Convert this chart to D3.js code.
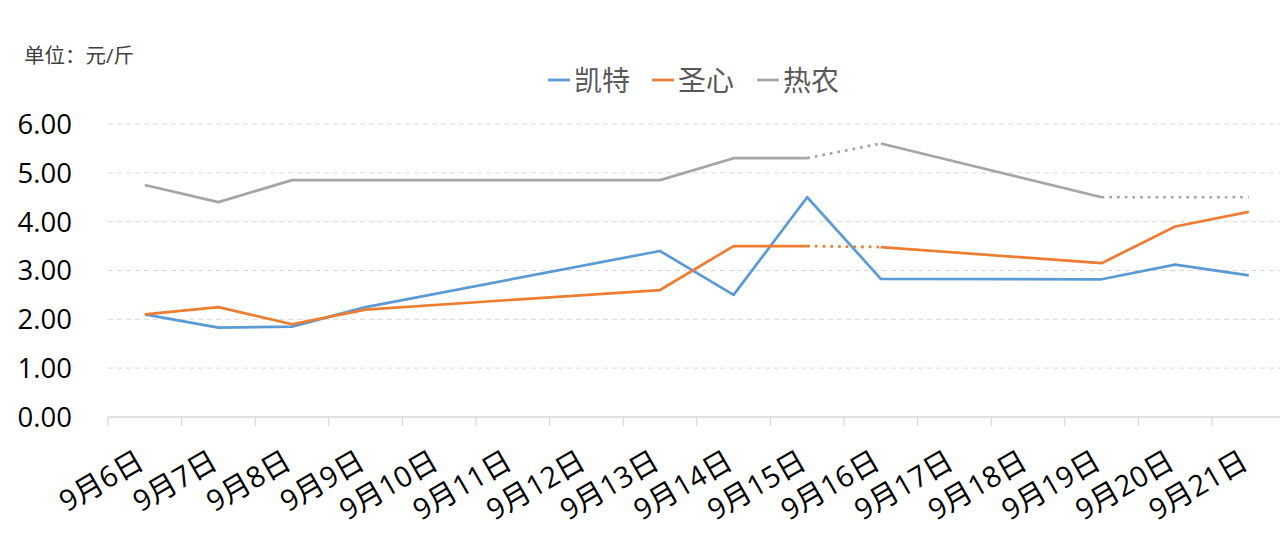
<!DOCTYPE html>
<html lang="zh">
<head>
<meta charset="UTF-8">
<title>价格走势</title>
<style>
  body { margin: 0; background: #fff; }
  text { font-family: "Open Sans", "Noto Sans CJK SC", sans-serif; }
</style>
</head>
<body>
<svg width="1280" height="545"></svg>
<script src="https://d3js.org/d3.v7.min.js"></script>
<script>

  var dates = ['9月6日', '9月7日', '9月8日', '9月9日', '9月10日', '9月11日', '9月12日', '9月13日',
               '9月14日', '9月15日', '9月16日', '9月17日', '9月18日', '9月19日', '9月20日', '9月21日'];

  var kaite   = [2.10, 1.83, 1.85, 2.25, null, null, null, 3.40, 2.50, 4.50, 2.83, null, null, 2.82, 3.12, 2.90];
  var shengxin = [2.10, 2.25, 1.90, 2.20, null, null, null, 2.60, 3.50, 3.50, 3.48, null, null, 3.15, 3.90, 4.20];
  var renong  = [4.75, 4.40, 4.85, 4.85, null, null, null, 4.85, 5.30, 5.30, 5.60, null, null, 4.50, null, 4.50];

  // segments drawn dotted, named by the date they start from
  var kaiteDotted = [];
  var shengxinDotted = ['9月15日'];
  var renongDotted = ['9月15日', '9月19日'];

  var yTicks = [0, 1, 2, 3, 4, 5, 6];

  var series = [
    {name: '凯特', values: kaite, dotted: kaiteDotted, color: '#5B9BD5'},
    {name: '圣心', values: shengxin, dotted: shengxinDotted, color: '#ED7D31'},
    {name: '热农', values: renong, dotted: renongDotted, color: '#A5A5A5'}
  ];

  var svg = d3.select('svg');

  var x = d3.scaleBand().domain(dates).range([108, 108 + 16 * 73.6]);
  var y = d3.scaleLinear().domain([0, 6]).range([417, 124]);
  var cx = function(d) { return x(d) + x.bandwidth() / 2; };

  // grid
  svg.append('g')
    .selectAll('line')
    .data(yTicks.filter(function(t) { return t > 0; }))
    .enter().append('line')
    .attr('x1', x.range()[0]).attr('x2', x.range()[1])
    .attr('y1', function(d) { return y(d); })
    .attr('y2', function(d) { return y(d); })
    .attr('stroke', '#d9d9d9')
    .attr('stroke-width', 1)
    .attr('stroke-dasharray', '5,4');

  // y labels
  svg.append('g')
    .selectAll('text')
    .data(yTicks)
    .enter().append('text')
    .attr('x', 72)
    .attr('y', function(d) { return y(d); })
    .attr('dy', '0.36em')
    .attr('text-anchor', 'end')
    .attr('font-size', 27.5)
    .attr('fill', '#000')
    .text(function(d) { return d3.format('.2f')(d); });

  // x axis
  var xAxis = svg.append('g');
  xAxis.append('line')
    .attr('x1', x.range()[0]).attr('x2', x.range()[1])
    .attr('y1', y(0)).attr('y2', y(0))
    .attr('stroke', '#d9d9d9').attr('stroke-width', 1.3);
  xAxis.selectAll('.tick')
    .data(dates)
    .enter().append('line')
    .attr('x1', function(d) { return x(d); })
    .attr('x2', function(d) { return x(d); })
    .attr('y1', y(0)).attr('y2', y(0) + 9)
    .attr('stroke', '#d9d9d9').attr('stroke-width', 1.3);
  xAxis.selectAll('text')
    .data(dates)
    .enter().append('text')
    .attr('text-anchor', 'end')
    .attr('font-size', 29)
    .attr('fill', '#000')
    .attr('transform', function(d) { return 'translate(' + (cx(d) + 1) + ',467) rotate(-30)'; })
    .text(function(d) { return d; });

  // lines
  var line = d3.line()
    .x(function(p) { return cx(p.date); })
    .y(function(p) { return y(p.value); });

  series.forEach(function(s) {
    var pts = [];
    s.values.forEach(function(v, i) {
      if (v !== null) pts.push({date: dates[i], value: v});
    });
    // group consecutive pairs of the same style into one path
    var runs = [];
    for (var i = 0; i < pts.length - 1; i++) {
      var dotted = s.dotted.indexOf(pts[i].date) >= 0;
      var last = runs[runs.length - 1];
      if (last && last.dotted === dotted) {
        last.pts.push(pts[i + 1]);
      } else {
        runs.push({dotted: dotted, pts: [pts[i], pts[i + 1]]});
      }
    }
    svg.append('g')
      .selectAll('path')
      .data(runs)
      .enter().append('path')
      .attr('d', function(r) { return line(r.pts); })
      .attr('fill', 'none')
      .attr('stroke', s.color)
      .attr('stroke-width', 2.7)
      .attr('stroke-linejoin', 'round')
      .attr('stroke-dasharray', function(r) { return r.dotted ? '2.7,5' : null; });
  });

  // legend
  var legendX = [548, 652, 757];
  var legend = svg.append('g')
    .selectAll('g')
    .data(series)
    .enter().append('g')
    .attr('transform', function(d, i) { return 'translate(' + legendX[i] + ',80)'; });
  legend.append('line')
    .attr('x1', 0).attr('x2', 22)
    .attr('stroke', function(d) { return d.color; })
    .attr('stroke-width', 2.7);
  legend.append('text')
    .attr('x', 26)
    .attr('dy', '0.38em')
    .attr('font-size', 28)
    .attr('fill', '#595959')
    .text(function(d) { return d.name; });

  // unit
  svg.append('text')
    .attr('x', 24).attr('y', 63)
    .attr('font-size', 20.5)
    .attr('fill', '#404040')
    .text('单位：元/斤');

</script>
</body>
</html>
